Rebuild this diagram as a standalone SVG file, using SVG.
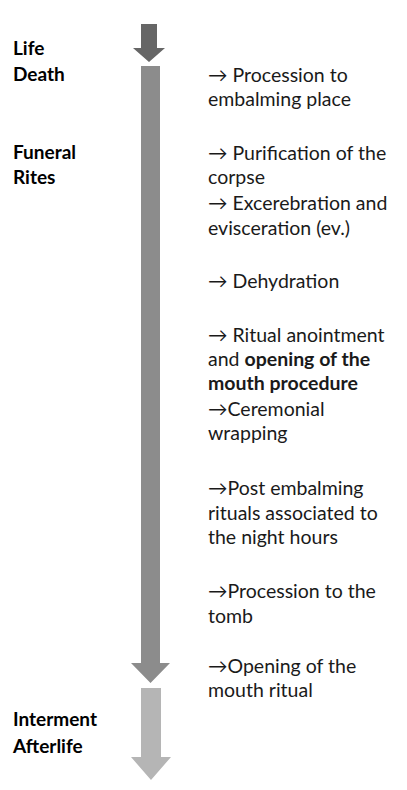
<svg xmlns="http://www.w3.org/2000/svg" width="407" height="790" viewBox="0 0 407 790">
<style>
.lbl{font-family:Lato,"Open Sans","Liberation Sans",sans-serif;font-size:19px;font-weight:bold;fill:#000}
.txt{font-family:Lato,"Open Sans","Liberation Sans",sans-serif;font-size:19.5px;fill:#1a1a1a}
.b{font-weight:bold}
</style>
<rect width="407" height="790" fill="#fff"/>
<g id="arrows">
<g id="arrow-life"><polygon points="141,24 157,24 157,48 165,48 149,62 133,48 141,48" fill="#666"/></g>
<g id="arrow-funeral"><polygon points="141,66 160,66 160,663 170,663 150.5,683 131,663 141,663" fill="#8c8c8c"/></g>
<g id="arrow-afterlife"><polygon points="141,688 161,688 161,757 171,757 151,780 131,757 141,757" fill="#b5b5b5"/></g>
</g>
<g id="labels">
<text class="lbl" x="13" y="55">Life</text>
<text class="lbl" x="13" y="81">Death</text>
<text class="lbl" x="13" y="159">Funeral</text>
<text class="lbl" x="13" y="184">Rites</text>
<text class="lbl" x="13" y="726">Interment</text>
<text class="lbl" x="13" y="753">Afterlife</text>
</g>
<g id="steps">
<text class="txt" x="208" y="82">→ Procession to</text>
<text class="txt" x="208" y="106">embalming place</text>
<text class="txt" x="208" y="160">→ Purification of the</text>
<text class="txt" x="208" y="184">corpse</text>
<text class="txt" x="208" y="210">→ Excerebration and</text>
<text class="txt" x="208" y="235">evisceration (ev.)</text>
<text class="txt" x="208" y="288">→ Dehydration</text>
<text class="txt" x="208" y="342">→ Ritual anointment</text>
<text class="txt" x="208" y="366">and <tspan class="b">opening of the</tspan></text>
<text class="txt b" x="208" y="390">mouth procedure</text>
<text class="txt" x="208" y="416">→Ceremonial</text>
<text class="txt" x="208" y="440">wrapping</text>
<text class="txt" x="208" y="495">→Post embalming</text>
<text class="txt" x="208" y="520">rituals associated to</text>
<text class="txt" x="208" y="544">the night hours</text>
<text class="txt" x="208" y="598">→Procession to the</text>
<text class="txt" x="208" y="623">tomb</text>
<text class="txt" x="208" y="673">→Opening of the</text>
<text class="txt" x="208" y="697">mouth ritual</text>
</g>
</svg>
